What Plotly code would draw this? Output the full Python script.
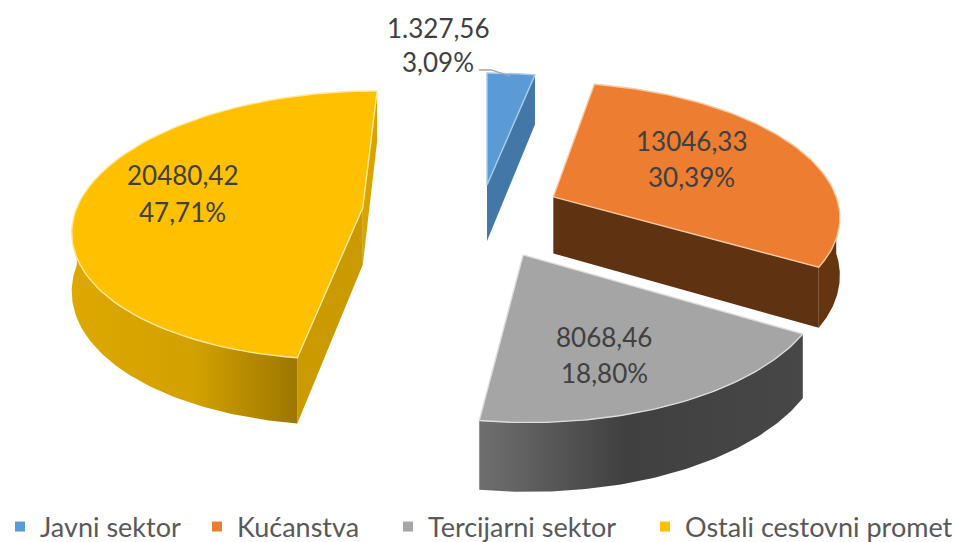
import numpy as np
import plotly.graph_objects as go

CATEGORIES = ["Javni sektor", "Kućanstva", "Tercijarni sektor", "Ostali cestovni promet"]
VALUES = [1327.56, 13046.33, 8068.46, 20480.42]
VALUE_LABELS = ["1.327,56", "13046,33", "8068,46", "20480,42"]
PERCENT_LABELS = ["3,09%", "30,39%", "18,80%", "47,71%"]

# styling / camera of the 3D pie
TOP = ["#5B9BD5", "#ED7D31", "#A5A5A5", "#FFC000"]
EDGE = ["#A9CDEE", "#F8C9A4", "#DDDDDD", "#FFE9A0"]
CX, YH, A, H, D, R = 487, -804, 1026, 58, 2190, 290
OFF_X = [0, 68, 35, -126]
OFF_Y = [-82, -55, 68, -31]
LABEL_POS = [((438, 28), (438, 62)), ((691, 141), (691, 177)), ((604, 337), (604, 373)), ((182, 175), (182, 212))]
LEGEND_X = [0, 197, 388, 645]

fractions = np.array(VALUES) / sum(VALUES)
bounds = np.concatenate([[0], np.cumsum(fractions)]) * 2 * np.pi


def proj(X, Y, lift=True):
    s = D / (D - np.asarray(Y, float))
    x = CX + np.asarray(X, float) * s
    y = YH + A * s + (0 if lift else H * s)
    return x, y


def rim(i, a0, a1, n=80):
    th = np.linspace(a0, a1, n)
    return OFF_X[i] + R * np.sin(th), OFF_Y[i] - R * np.cos(th)


def face(xs, ys, color=None, gradient=None, line=None):
    kw = dict(x=list(xs), y=list(ys), mode="lines", fill="toself", showlegend=False, hoverinfo="skip",
              line=dict(width=1.4 if line else 0, color=line or "rgba(0,0,0,0)"))
    if gradient:
        kw["fillgradient"] = dict(type="horizontal", colorscale=gradient)
    else:
        kw["fillcolor"] = color
    return go.Scatter(**kw)


def cut(i, ang, color):
    X, Y = rim(i, ang, ang, 2)
    ax, ay = proj(OFF_X[i], OFF_Y[i])
    bx, by = proj(OFF_X[i], OFF_Y[i], False)
    tx, ty = proj(X[0], Y[0])
    ux, uy = proj(X[0], Y[0], False)
    return face([ax, tx, ux, bx, ax], [ay, ty, uy, by, ay], color, line=None)


def outer(i, a0, a1, color=None, gradient=None):
    X, Y = rim(i, a0, a1)
    tx, ty = proj(X, Y)
    bx, by = proj(X, Y, False)
    return face(np.r_[tx, bx[::-1], tx[0]], np.r_[ty, by[::-1], ty[0]], color, gradient)


def top(i):
    X, Y = rim(i, bounds[i], bounds[i + 1])
    tx, ty = proj(X, Y)
    ax, ay = proj(OFF_X[i], OFF_Y[i])
    return face(np.r_[ax, tx, ax], np.r_[ay, ty, ay], TOP[i], line=EDGE[i])


fig = go.Figure()
q = np.pi / 2
# Javni sektor
fig.add_trace(cut(0, bounds[1], "#4277A8"))
fig.add_trace(top(0))
# Ostali cestovni promet
fig.add_trace(cut(3, bounds[4], "#D9A400"))
fig.add_trace(cut(3, bounds[3], "#CB9900"))
fig.add_trace(outer(3, bounds[3], 3 * q, gradient=[[0, "#DDA800"], [0.55, "#D2A000"], [1, "#9C7600"]]))
fig.add_trace(top(3))
# Kucanstva
fig.add_trace(outer(1, q, bounds[2], "#66350F"))
fig.add_trace(cut(1, bounds[2], "#5F3211"))
fig.add_trace(top(1))
# Tercijarni sektor
fig.add_trace(outer(2, bounds[2], bounds[3], gradient=[[0, "#6F6F6F"], [0.45, "#404040"], [1, "#474747"]]))
fig.add_trace(top(2))

for i, (cat, col) in enumerate(zip(CATEGORIES, TOP)):
    fig.add_trace(go.Scatter(x=[None], y=[None], mode="markers", name=cat,
                             marker=dict(symbol="square", size=10, color=col),
                             legend="legend" if i == 0 else f"legend{i + 1}"))

annotations = []
for (p1, p2), v, pct in zip(LABEL_POS, VALUE_LABELS, PERCENT_LABELS):
    for (x, y), t in ((p1, v), (p2, pct)):
        annotations.append(dict(x=x, y=y, text=t, showarrow=False, xanchor="center", yanchor="middle",
                                font=dict(family="Lato", size=26, color="#404040")))

layout = dict(
    width=955, height=542, margin=dict(l=0, r=0, t=0, b=0, autoexpand=False), paper_bgcolor="white", plot_bgcolor="white",
    xaxis=dict(range=[0, 955], visible=False, fixedrange=True),
    yaxis=dict(range=[542, 0], visible=False, fixedrange=True),
    annotations=annotations,
    shapes=[dict(type="path", path="M479,70 L491,70 L510,76", line=dict(color="#A6A6A6", width=1.3))],
    showlegend=True,
)
for i, lx in enumerate(LEGEND_X):
    key = "legend" if i == 0 else f"legend{i + 1}"
    layout[key] = dict(x=lx / 955, y=1 - 527 / 542, xanchor="left", yanchor="middle", orientation="h",
                       xref="container", yref="container",
                       bgcolor="rgba(0,0,0,0)", font=dict(family="Lato", size=27, color="#595959"))
fig.update_layout(**layout)
fig.write_html("out.html", config={"displayModeBar": False}, post_script="document.body.style.margin='0';")
